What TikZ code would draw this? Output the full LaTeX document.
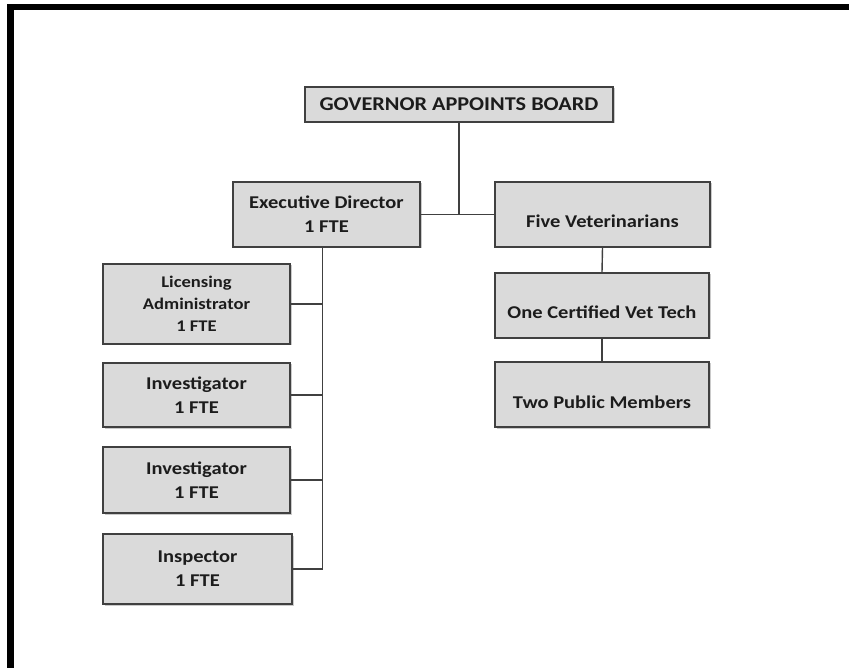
\documentclass[tikz,border=0pt]{standalone}
\usepackage{fontspec}
\setmainfont{Carlito}[FakeStretch=1.14]
\usepackage{tikz}
\usetikzlibrary{shadows}
\definecolor{INK}{HTML}{1C1C1C}
\definecolor{EDGE}{HTML}{404040}
\definecolor{BOXF}{HTML}{DADADA}
\definecolor{SHAD}{HTML}{A6A6A6}
\begin{document}
\begin{tikzpicture}[x=1pt,y=-1pt]
\tikzset{box/.style={draw=EDGE,line width=1.4pt,fill=BOXF,text=INK,font=\fontsize{18}{24}\selectfont\bfseries,
 align=center,inner sep=0pt,drop shadow={shadow xshift=1.5pt,shadow yshift=-1.5pt,fill=SHAD,opacity=.6}},
 low/.style={text height=27pt,text depth=0pt},
 wire/.style={EDGE,line width=1.4pt},frame/.style={line width=6.5pt,black}}
\useasboundingbox (0,0) rectangle (849,668);
\draw[frame] (10.5,668) -- (10.5,7) -- (849,7);
\node[box,minimum width=308pt,minimum height=35pt,font=\fontsize{19.5}{22}\selectfont\bfseries] (gov) at (459,104.5) {GOVERNOR APPOINTS BOARD};
\node[box,minimum width=187pt,minimum height=65pt] (exec) at (326.5,214.5) {Executive Director\\1 FTE};
\node[box,low,minimum width=215pt,minimum height=65pt] (vets) at (602.5,214.5) {Five Veterinarians};
\node[box,low,minimum width=214pt,minimum height=65pt] (cert) at (602,305.5) {One Certified Vet Tech};
\node[box,low,minimum width=214pt,minimum height=65pt] (pub) at (602,394.5) {Two Public Members};
\node[box,minimum width=187pt,minimum height=80pt,font=\fontsize{16.3}{22}\selectfont\bfseries] (lic) at (196.5,304) {Licensing\\Administrator\\1 FTE};
\node[box,minimum width=187pt,minimum height=64pt] (inv1) at (196.5,395) {Investigator\\1 FTE};
\node[box,minimum width=187pt,minimum height=66pt] (inv2) at (196.5,480) {Investigator\\1 FTE};
\node[box,minimum width=189pt,minimum height=70pt] (insp) at (197.5,569) {Inspector\\1 FTE};
\coordinate (trunk) at ([xshift=-4pt]exec.south);
\draw[wire] (gov.south) -- (gov.south |- exec.east);
\draw[wire] (exec.east) -- (vets.west);
\draw[wire] (vets.south) -- (cert.north);
\draw[wire] (cert.south) -- (pub.north);
\draw[wire] (trunk) |- (insp.east);
\draw[wire] (lic.east) -- (lic.east -| trunk);
\draw[wire] (inv1.east) -- (inv1.east -| trunk);
\draw[wire] (inv2.east) -- (inv2.east -| trunk);
\end{tikzpicture}
\end{document}
